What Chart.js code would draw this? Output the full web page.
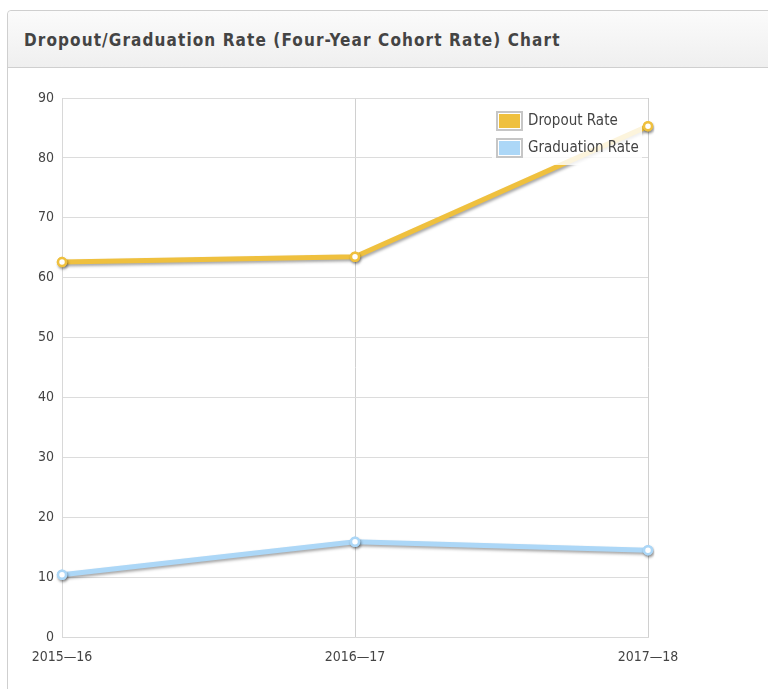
<!DOCTYPE html>
<html>
<head>
<meta charset="utf-8">
<script src="https://cdn.jsdelivr.net/npm/chart.js@4/dist/chart.umd.min.js"></script>
<style>
  html, body { margin: 0; padding: 0; background: #fff; }
  body { width: 768px; height: 689px; position: relative; overflow: hidden; }
  .panel {
    position: absolute; left: 7px; top: 10px; width: 780px; height: 700px;
    border: 1px solid #cfcfcf; border-radius: 4px 0 0 0; box-sizing: border-box;
  }
  .panel-head {
    height: 57px; box-sizing: border-box;
    background: linear-gradient(#fbfbfb, #efefef);
    border-bottom: 1px solid #cfcfcf; border-radius: 4px 0 0 0;
  }
  .panel-head h3 {
    margin: 0; position: absolute; left: 16px; top: 19px;
    font: bold 17px "DejaVu Sans Condensed", "DejaVu Sans", sans-serif;
    color: #444; letter-spacing: 1.1px;
  }
  #wrap { position: absolute; left: 0; top: 0; width: 768px; height: 689px; }
</style>
</head>
<body>
<div class="panel"><div class="panel-head"><h3>Dropout/Graduation Rate (Four-Year Cohort Rate) Chart</h3></div></div>
<div id="wrap"><canvas id="chart" width="768" height="689"></canvas></div>
<script>
const years = ['2015\u201416', '2016\u201417', '2017\u201418'];
const dropoutRate = [62.6, 63.5, 85.3];
const graduationRate = [10.4, 15.9, 14.5];
const seriesNames = ['Dropout Rate', 'Graduation Rate'];
const seriesColors = ['#efc03e', '#acd7f7'];
const fontFamily = '"DejaVu Sans Condensed", "DejaVu Sans", sans-serif';

// soft drop shadow under each line; markers are redrawn on top without it
const lineShadow = {
  id: 'lineShadow',
  beforeDatasetDraw(chart) {
    const ctx = chart.ctx;
    ctx.save();
    ctx.shadowColor = 'rgba(0,0,0,0.35)';
    ctx.shadowBlur = 3;
    ctx.shadowOffsetX = 1;
    ctx.shadowOffsetY = 2;
  },
  afterDatasetDraw(chart, args) {
    const ctx = chart.ctx;
    ctx.restore();
    args.meta.data.forEach(pt => pt.draw(ctx, chart.chartArea));
  }
};

// legend box drawn in the top-right corner of the plot area
const cornerLegend = {
  id: 'cornerLegend',
  afterDatasetsDraw(chart) {
    const ctx = chart.ctx;
    const area = chart.chartArea;
    const x0 = area.right - 156, y0 = area.top + 5;
    const w = 150, h = 62;
    ctx.save();
    ctx.fillStyle = 'rgba(255,255,255,0.82)';
    ctx.fillRect(x0, y0, w, h);
    ctx.font = '15px ' + fontFamily;
    ctx.textBaseline = 'middle';
    chart.data.datasets.forEach((ds, i) => {
      const sx = x0 + 4, sy = y0 + 8 + i * 27;
      ctx.fillStyle = '#fff';
      ctx.fillRect(sx, sy, 27, 20);
      ctx.strokeStyle = '#c6c6c6';
      ctx.lineWidth = 2;
      ctx.strokeRect(sx + 1, sy + 1, 25, 18);
      ctx.fillStyle = ds.borderColor;
      ctx.fillRect(sx + 3, sy + 3, 21, 14);
      ctx.fillStyle = '#444';
      ctx.fillText(ds.label, sx + 32, sy + 10);
    });
    ctx.restore();
  }
};

new Chart(document.getElementById('chart'), {
  type: 'line',
  data: {
    labels: years,
    datasets: [
      { label: seriesNames[0], data: dropoutRate, borderColor: seriesColors[0] },
      { label: seriesNames[1], data: graduationRate, borderColor: seriesColors[1] }
    ]
  },
  options: {
    responsive: false,
    animation: false,
    layout: { padding: { left: 0, right: 120, top: 98, bottom: 0 } },
    elements: {
      line: { borderWidth: 5, tension: 0, fill: false },
      point: { radius: 4, borderWidth: 2.5, backgroundColor: '#fff', hoverRadius: 4 }
    },
    plugins: { legend: { display: false }, tooltip: { enabled: false } },
    scales: {
      x: {
        offset: false,
        grid: { color: '#d0d0d0', drawTicks: false },
        border: { color: '#d8d8d8' },
        ticks: { color: '#444', padding: 12, font: { family: fontFamily, size: 14 }, maxRotation: 0 },
        afterFit(s) { s.height = 52; }
      },
      y: {
        min: 0, max: 90,
        grid: { color: '#dcdcdc', drawTicks: false },
        border: { color: '#d8d8d8' },
        ticks: { stepSize: 10, color: '#444', padding: 8, font: { family: fontFamily, size: 14 } },
        afterFit(s) { s.width = 62; }
      }
    }
  },
  plugins: [lineShadow, cornerLegend]
});
</script>
</body>
</html>
